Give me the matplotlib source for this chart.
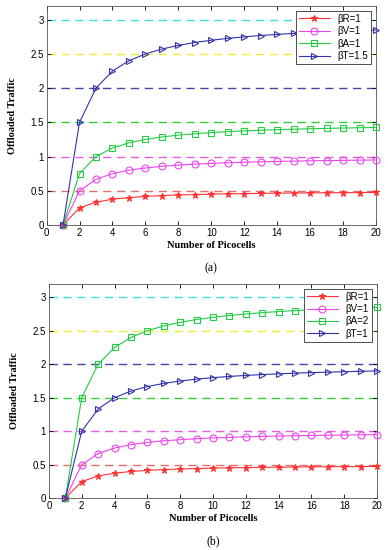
import matplotlib
matplotlib.use("Agg")
import matplotlib.pyplot as plt

picocells = list(range(1, 21))

# panel (a)
a_R = [0, 0.25, 0.333, 0.375, 0.4, 0.417, 0.429, 0.438, 0.444, 0.45,
       0.455, 0.458, 0.462, 0.464, 0.467, 0.469, 0.471, 0.472, 0.474, 0.475]
a_V = [0, 0.5, 0.667, 0.75, 0.8, 0.833, 0.857, 0.875, 0.889, 0.9,
       0.909, 0.917, 0.923, 0.929, 0.933, 0.938, 0.941, 0.944, 0.947, 0.95]
a_A = [0, 0.75, 1.0, 1.125, 1.2, 1.25, 1.286, 1.313, 1.333, 1.35,
       1.364, 1.375, 1.385, 1.393, 1.4, 1.406, 1.412, 1.417, 1.421, 1.425]
a_T = [0, 1.5, 2.0, 2.25, 2.4, 2.5, 2.571, 2.625, 2.667, 2.7,
       2.727, 2.75, 2.769, 2.786, 2.8, 2.813, 2.824, 2.833, 2.842, 2.85]
a_labels = ["βR=1", "βV=1", "βA=1", "βT=1.5"]

# panel (b)
b_R = a_R
b_V = a_V
b_A = [0, 1.5, 2.0, 2.25, 2.4, 2.5, 2.571, 2.625, 2.667, 2.7,
       2.727, 2.75, 2.769, 2.786, 2.8, 2.813, 2.824, 2.833, 2.842, 2.85]
b_T = [0, 1.0, 1.333, 1.5, 1.6, 1.667, 1.714, 1.75, 1.778, 1.8,
       1.818, 1.833, 1.846, 1.857, 1.867, 1.875, 1.882, 1.889, 1.895, 1.9]
b_labels = ["βR=1", "βV=1", "βA=2", "βT=1"]

ref_levels = [3, 2.5, 2, 1.5, 1, 0.5]
ref_colors = ["#44dddd", "#eeee33", "#4444aa", "#33cc33", "#e060e0", "#e07070"]

line_colors = ["#ff3333", "#ee44ee", "#22cc44", "#3333aa"]
markers = ["*", "o", "s", ">"]

sans = ["Liberation Sans", "DejaVu Sans"]
serif = ["Liberation Serif", "DejaVu Serif"]

fig = plt.figure(figsize=(3.88, 5.5), dpi=100)
ax1 = fig.add_axes([0.12, 0.591, 0.849, 0.398])
ax2 = fig.add_axes([0.126, 0.094, 0.846, 0.39])


def draw(ax, series, labels, tag):
    for lev, c in zip(ref_levels, ref_colors):
        ax.axhline(lev, color=c, ls=(0, (6, 4)), lw=1.0, zorder=1)
    for ys, lab, c, m in zip(series, labels, line_colors, markers):
        ax.plot(picocells, ys, color=c, marker=m, ms=5 if m != "*" else 4.5,
                mfc="none" if m != "*" else c, mew=0.8, lw=0.8,
                label=lab, clip_on=False, zorder=3)
    ax.set_xlim(0, 20)
    ax.set_ylim(0, 3.2)
    ax.set_xticks(range(0, 21, 2))
    ax.set_yticks(ref_levels[::-1] + [0])
    ax.set_yticklabels(["0" if v == 0 else ("%g" % v) for v in ax.get_yticks()])
    ax.tick_params(direction="in", top=True, right=True, length=3,
                   labelsize=7, width=0.6, pad=2)
    for t in ax.get_xticklabels() + ax.get_yticklabels():
        t.set_family(sans)
    for s in ax.spines.values():
        s.set_linewidth(0.6)
        s.set_color("#555555")
    ax.set_xlabel("Number of Picocells", family=serif, fontweight="bold",
                  fontsize=7.5, labelpad=2)
    ax.set_ylabel("Offloaded Traffic", family=serif, fontweight="bold",
                  fontsize=7.5, labelpad=10)
    leg = ax.legend(loc="upper right", prop={"family": sans, "size": 7},
                    fancybox=False, edgecolor="#333333", framealpha=1,
                    handlelength=3.2, borderpad=0.3, labelspacing=0.25,
                    borderaxespad=0.5)
    leg.get_frame().set_linewidth(0.6)
    ax.text(0.5, -0.2, tag, transform=ax.transAxes, ha="center", va="center",
            family=serif, fontsize=8.5)


draw(ax1, [a_R, a_V, a_A, a_T], a_labels, "(a)")
draw(ax2, [b_R, b_V, b_A, b_T], b_labels, "(b)")

fig.savefig("out.png", dpi=100)
